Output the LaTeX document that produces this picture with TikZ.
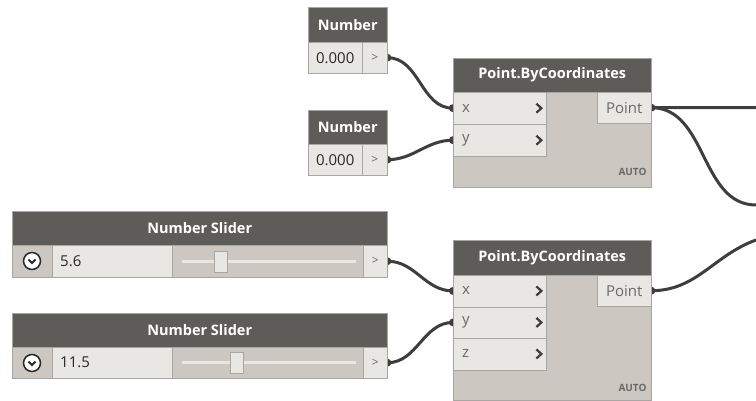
\documentclass[tikz,border=0pt]{standalone}
\usepackage{fontspec}
\setmainfont{Open Sans}
\usetikzlibrary{positioning}
\pgfdeclarelayer{back}
\pgfsetlayers{back,main}
\definecolor{hdrgrey}{RGB}{94,92,89}
\definecolor{bodygrey}{RGB}{204,200,193}
\definecolor{portgrey}{RGB}{233,231,227}
\definecolor{edgegrey}{RGB}{168,166,162}
\definecolor{wiregrey}{RGB}{62,62,62}
\definecolor{valtext}{RGB}{40,40,40}
\definecolor{porttext}{RGB}{105,105,105}
\definecolor{chevgrey}{RGB}{60,60,60}

\begin{document}
\begin{tikzpicture}[x=1pt,y=-1pt,
  hdr/.style={draw=edgegrey,fill=hdrgrey,text=white,anchor=north west,inner sep=0pt,font=\fontsize{14.5}{18}\selectfont\bfseries},
  valbox/.style={draw=edgegrey,fill=portgrey,anchor=north west,inner sep=0pt,text=valtext,font=\fontsize{15}{18}\selectfont},
  pane/.style={draw=edgegrey,fill=bodygrey,anchor=north west,inner sep=0pt},
  outbox/.style={valbox,text=porttext,font=\fontsize{12}{12}\selectfont},
  port/.style={valbox,text=porttext,minimum width=93pt,text width=75pt,align=left},
  chev/.style={draw=chevgrey,line width=2.2pt},
  wire/.style={draw=wiregrey,line width=3pt},
  track/.style={draw=portgrey,line width=3pt},
  thumb/.style={draw=edgegrey,fill=portgrey,minimum width=13pt,minimum height=21pt,inner sep=0pt},
  knob/.style={circle,draw=valtext,fill=white,line width=1.5pt,minimum size=17pt,inner sep=0pt},
  autotag/.style={font=\fontsize{10}{12}\selectfont\bfseries,text=porttext,inner sep=0pt}
]
\useasboundingbox (0,0) rectangle (756,401);

% number inputs
\node[hdr,minimum width=79pt,minimum height=35pt] (num1) at (308,7) {Number};
\node[valbox,minimum width=54pt,minimum height=31pt] (num1val) at (308,42) {0.000};
\node[outbox,minimum width=25pt,minimum height=31pt] (num1out) at (362,42) {>};

\node[hdr,minimum width=79pt,minimum height=34pt] (num2) at (308,110) {Number};
\node[valbox,minimum width=54pt,minimum height=31pt] (num2val) at (308,144) {0.000};
\node[outbox,minimum width=25pt,minimum height=31pt] (num2out) at (362,144) {>};

% sliders
\node[hdr,minimum width=375pt,minimum height=34pt] (sl1) at (12,211) {Number Slider};
\node[pane,minimum width=40pt,minimum height=32pt] (sl1left) at (12,245) {};
\node[valbox,minimum width=120pt,minimum height=32pt,text width=104pt,align=left] (sl1val) at (52,245) {5.6};
\node[pane,minimum width=191pt,minimum height=32pt] (sl1bar) at (172,245) {};
\node[outbox,minimum width=24pt,minimum height=32pt] (sl1out) at (363,245) {>};
\draw[track] ([xshift=10pt]sl1bar.west) -- ([xshift=-7pt]sl1bar.east);
\node[thumb] (sl1thumb) at (220.5,261.5) {};
\node[knob] (sl1knob) at (32,261) {};
\draw[line width=1.8pt,draw=valtext] ([xshift=-3.5pt,yshift=1.5pt]sl1knob.center) -- ([yshift=-2pt]sl1knob.center) -- ([xshift=3.5pt,yshift=1.5pt]sl1knob.center);

\node[hdr,minimum width=375pt,minimum height=34pt] (sl2) at (12,313) {Number Slider};
\node[pane,minimum width=40pt,minimum height=31pt] (sl2left) at (12,347) {};
\node[valbox,minimum width=120pt,minimum height=31pt,text width=104pt,align=left] (sl2val) at (52,347) {11.5};
\node[pane,minimum width=191pt,minimum height=31pt] (sl2bar) at (172,347) {};
\node[outbox,minimum width=24pt,minimum height=31pt] (sl2out) at (363,347) {>};
\draw[track] ([xshift=10pt]sl2bar.west) -- ([xshift=-7pt]sl2bar.east);
\node[thumb] (sl2thumb) at (236.5,363) {};
\node[knob] (sl2knob) at (32,363) {};
\draw[line width=1.8pt,draw=valtext] ([xshift=-3.5pt,yshift=1.5pt]sl2knob.center) -- ([yshift=-2pt]sl2knob.center) -- ([xshift=3.5pt,yshift=1.5pt]sl2knob.center);

% point nodes
\node[hdr,minimum width=198pt,minimum height=34pt] (pbc1) at (453,58) {Point.ByCoordinates};
\node[pane,minimum width=198pt,minimum height=95pt] (pbc1body) at (453,92) {};
\node[port,minimum height=32pt] (pbc1x) at (453,92) {x};
\node[port,minimum height=32pt] (pbc1y) at (453,124) {y};
\node[valbox,text=porttext,minimum width=54pt,minimum height=31pt] (pbc1pt) at (597,92) {Point};
\node[autotag] (pbc1auto) at (632.5,172) {AUTO};

\node[hdr,minimum width=198pt,minimum height=35pt] (pbc2) at (453,240) {Point.ByCoordinates};
\node[pane,minimum width=198pt,minimum height=125pt] (pbc2body) at (453,275) {};
\node[port,minimum height=31.5pt] (pbc2x) at (453,275) {x};
\node[port,minimum height=31.5pt] (pbc2y) at (453,306.5) {y};
\node[port,minimum height=31.5pt] (pbc2z) at (453,338) {z};
\node[valbox,text=porttext,minimum width=54pt,minimum height=31pt] (pbc2pt) at (597,275) {Point};
\node[autotag] (pbc2auto) at (632.5,388) {AUTO};

\foreach \r in {pbc1x,pbc1y,pbc2x,pbc2y,pbc2z}
  \draw[chev] ([xshift=-10pt,yshift=4.5pt]\r.east) -- ([xshift=-5pt]\r.east) -- ([xshift=-10pt,yshift=-4.5pt]\r.east);

\coordinate (edge1) at (756,107.5);
\coordinate (edge2) at (756,205);
\coordinate (edge3) at (756,240);

% wires
\begin{pgfonlayer}{back}
\draw[wire] (num1out.east) to[out=0,in=180] (pbc1x.west);
\draw[wire] (num2out.east) to[out=0,in=180] (pbc1y.west);
\draw[wire] (sl1out.east) to[out=0,in=180] (pbc2x.west);
\draw[wire] (sl2out.east) to[out=0,in=180] (pbc2y.west);
\draw[wire] (pbc1pt.east) -- (edge1);
\draw[wire] (pbc1pt.east) to[out=0,in=180] (edge2);
\draw[wire] (pbc2pt.east) to[out=0,in=200] (edge3);
\foreach \p in {num1out.east,num2out.east,sl1out.east,sl2out.east,pbc1x.west,pbc1y.west,pbc2x.west,pbc2y.west,pbc1pt.east,pbc2pt.east}
  \fill[wiregrey] (\p) circle (4pt);
\end{pgfonlayer}
\end{tikzpicture}
\end{document}
